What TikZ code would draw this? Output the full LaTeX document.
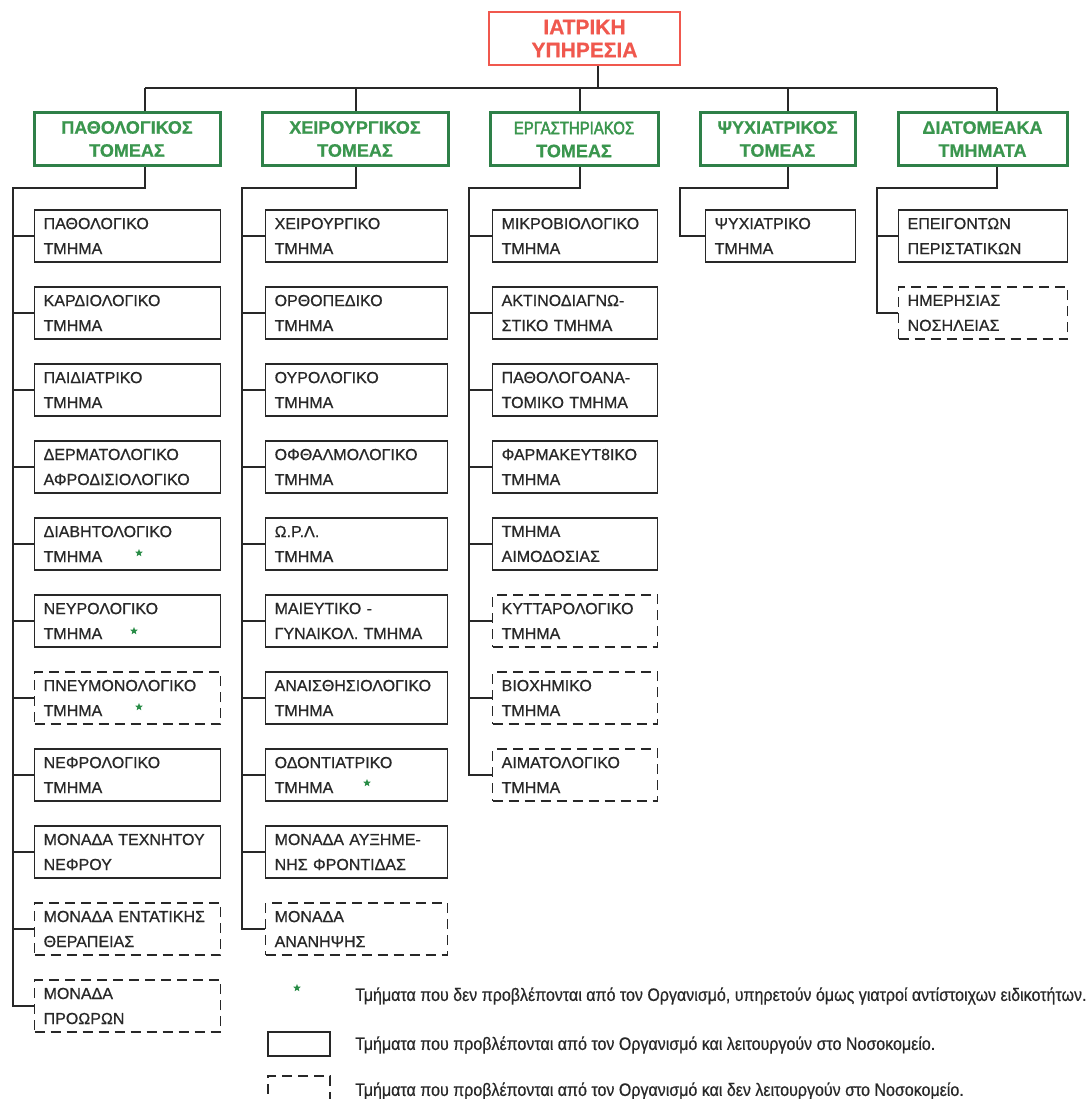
\documentclass[tikz,border=0pt]{standalone}
\usepackage{fontspec}
\setmainfont{Liberation Sans}[BoldFont={Liberation Sans Bold}, FakeBold=0.7]
\newfontfamily\narrowfont[FakeStretch=0.89, FakeBold=0.5]{Liberation Sans}
\usepackage{xcolor}
\usetikzlibrary{positioning, shapes.geometric}

\definecolor{headred}{RGB}{240,88,78}
\definecolor{sectgreen}{RGB}{46,128,72}
\definecolor{secttext}{RGB}{58,150,78}
\definecolor{inkgray}{RGB}{40,40,40}
\definecolor{stargreen}{RGB}{40,140,70}

\tikzset{
	headbox/.style={draw=headred, line width=2.6pt, text=headred, font=\bfseries\fontsize{21}{23}\selectfont, align=center, minimum width=191pt, minimum height=53pt, inner sep=0pt},
	sectorbox/.style={draw=sectgreen, line width=3pt, text=secttext, font=\bfseries\fontsize{18}{23}\selectfont, align=center, minimum height=53pt, inner sep=0pt},
	unitbox/.style={draw=inkgray, line width=1.3pt, text=inkgray, font=\fontsize{16}{25}\selectfont, align=left, anchor=west, text width=#1, minimum height=52pt, inner xsep=9pt, inner ysep=0pt},
	plannedbox/.style={unitbox=#1, dash pattern=on 10pt off 6pt},
	link/.style={draw=inkgray, line width=1.3pt},
	starmark/.style={star, star points=5, star point ratio=2.3, fill=stargreen, inner sep=0pt, minimum size=8pt},
	keytext/.style={anchor=west, text=inkgray, font=\narrowfont\fontsize{18}{20}\selectfont, inner sep=0pt}
}

\begin{document}
\begin{tikzpicture}[x=1pt,y=-1pt]
	\useasboundingbox[fill=white] (0,0) rectangle (1088,1099);

	% head and sectors
	\node[headbox] (head) at (584.5,38.5) {ΙΑΤΡΙΚΗ\\ΥΠΗΡΕΣΙΑ};
	\node[sectorbox, minimum width=186pt] (pat) at (127,139) {ΠΑΘΟΛΟΓΙΚΟΣ\\ΤΟΜΕΑΣ};
	\node[sectorbox, minimum width=186pt] (xei) at (355,139) {ΧΕΙΡΟΥΡΓΙΚΟΣ\\ΤΟΜΕΑΣ};
	\node[sectorbox, minimum width=168pt] (erg) at (574,139.5) {{\narrowfont\mdseries\addfontfeature{FakeStretch=0.83, FakeBold=2.5} ΕΡΓΑΣΤΗΡΙΑΚΟΣ}\\ΤΟΜΕΑΣ};
	\node[sectorbox, minimum width=155pt] (psy) at (777.5,139) {ΨΥΧΙΑΤΡΙΚΟΣ\\ΤΟΜΕΑΣ};
	\node[sectorbox, minimum width=169pt] (dia) at (982.5,139) {ΔΙΑΤΟΜΕΑΚΑ\\ΤΜΗΜΑΤΑ};

	% pathologikos
	\node[unitbox=168pt] (pat1) at (34,236) {ΠΑΘΟΛΟΓΙΚΟ\\ΤΜΗΜΑ};
	\node[unitbox=168pt] (pat2) at (34,313) {ΚΑΡΔΙΟΛΟΓΙΚΟ\\ΤΜΗΜΑ};
	\node[unitbox=168pt] (pat3) at (34,390) {ΠΑΙΔΙΑΤΡΙΚΟ\\ΤΜΗΜΑ};
	\node[unitbox=168pt] (pat4) at (34,467) {ΔΕΡΜΑΤΟΛΟΓΙΚΟ\\ΑΦΡΟΔΙΣΙΟΛΟΓΙΚΟ};
	\node[unitbox=168pt] (pat5) at (34,544) {ΔΙΑΒΗΤΟΛΟΓΙΚΟ\\ΤΜΗΜΑ};
	\node[unitbox=168pt] (pat6) at (34,621) {ΝΕΥΡΟΛΟΓΙΚΟ\\ΤΜΗΜΑ};
	\node[plannedbox=168pt] (pat7) at (34,698) {ΠΝΕΥΜΟΝΟΛΟΓΙΚΟ\\ΤΜΗΜΑ};
	\node[unitbox=168pt] (pat8) at (34,775) {ΝΕΦΡΟΛΟΓΙΚΟ\\ΤΜΗΜΑ};
	\node[unitbox=168pt] (pat9) at (34,852) {ΜΟΝΑΔΑ ΤΕΧΝΗΤΟΥ\\ΝΕΦΡΟΥ};
	\node[plannedbox=168pt] (pat10) at (34,929) {ΜΟΝΑΔΑ ΕΝΤΑΤΙΚΗΣ\\ΘΕΡΑΠΕΙΑΣ};
	\node[plannedbox=168pt] (pat11) at (34,1006) {ΜΟΝΑΔΑ\\ΠΡΟΩΡΩΝ};

	% xeirourgikos
	\node[unitbox=164pt] (xei1) at (265,236) {ΧΕΙΡΟΥΡΓΙΚΟ\\ΤΜΗΜΑ};
	\node[unitbox=164pt] (xei2) at (265,313) {ΟΡΘΟΠΕΔΙΚΟ\\ΤΜΗΜΑ};
	\node[unitbox=164pt] (xei3) at (265,390) {ΟΥΡΟΛΟΓΙΚΟ\\ΤΜΗΜΑ};
	\node[unitbox=164pt] (xei4) at (265,467) {ΟΦΘΑΛΜΟΛΟΓΙΚΟ\\ΤΜΗΜΑ};
	\node[unitbox=164pt] (xei5) at (265,544) {Ω.Ρ.Λ.\\ΤΜΗΜΑ};
	\node[unitbox=164pt] (xei6) at (265,621) {ΜΑΙΕΥΤΙΚΟ -\\ΓΥΝΑΙΚΟΛ. ΤΜΗΜΑ};
	\node[unitbox=164pt] (xei7) at (265,698) {ΑΝΑΙΣΘΗΣΙΟΛΟΓΙΚΟ\\ΤΜΗΜΑ};
	\node[unitbox=164pt] (xei8) at (265,775) {ΟΔΟΝΤΙΑΤΡΙΚΟ\\ΤΜΗΜΑ};
	\node[unitbox=164pt] (xei9) at (265,852) {ΜΟΝΑΔΑ ΑΥΞΗΜΕ-\\ΝΗΣ ΦΡΟΝΤΙΔΑΣ};
	\node[plannedbox=164pt] (xei10) at (265,929) {ΜΟΝΑΔΑ\\ΑΝΑΝΗΨΗΣ};

	% ergastiriakos
	\node[unitbox=147pt] (erg1) at (492,236) {ΜΙΚΡΟΒΙΟΛΟΓΙΚΟ\\ΤΜΗΜΑ};
	\node[unitbox=147pt] (erg2) at (492,313) {ΑΚΤΙΝΟΔΙΑΓΝΩ-\\ΣΤΙΚΟ ΤΜΗΜΑ};
	\node[unitbox=147pt] (erg3) at (492,390) {ΠΑΘΟΛΟΓΟΑΝΑ-\\ΤΟΜΙΚΟ ΤΜΗΜΑ};
	\node[unitbox=147pt] (erg4) at (492,467) {ΦΑΡΜΑΚΕΥΤ8ΙΚΟ\\ΤΜΗΜΑ};
	\node[unitbox=147pt] (erg5) at (492,544) {ΤΜΗΜΑ\\ΑΙΜΟΔΟΣΙΑΣ};
	\node[plannedbox=147pt] (erg6) at (492,621) {ΚΥΤΤΑΡΟΛΟΓΙΚΟ\\ΤΜΗΜΑ};
	\node[plannedbox=147pt] (erg7) at (492,698) {ΒΙΟΧΗΜΙΚΟ\\ΤΜΗΜΑ};
	\node[plannedbox=147pt] (erg8) at (492,775) {ΑΙΜΑΤΟΛΟΓΙΚΟ\\ΤΜΗΜΑ};

	% psyxiatrikos, diatomeaka
	\node[unitbox=132pt] (psy1) at (705,236) {ΨΥΧΙΑΤΡΙΚΟ\\ΤΜΗΜΑ};
	\node[unitbox=151pt] (dia1) at (898,236) {ΕΠΕΙΓΟΝΤΩΝ\\ΠΕΡΙΣΤΑΤΙΚΩΝ};
	\node[plannedbox=151pt] (dia2) at (898,313) {ΗΜΕΡΗΣΙΑΣ\\ΝΟΣΗΛΕΙΑΣ};

	% stars
	\node[starmark] (star5) at (139,553) {};
	\node[starmark] (star6) at (134,631) {};
	\node[starmark] (star7) at (139,707) {};
	\node[starmark] (star8) at (367,783) {};

	% connectors
	\coordinate (jh) at (598,88);
	\coordinate (j1) at (145,88);
	\coordinate (j2) at (356,88);
	\coordinate (j3) at (580,88);
	\coordinate (j4) at (788,88);
	\coordinate (j5) at (997,88);
	\coordinate (t1) at (13,188);
	\coordinate (t2) at (242,188);
	\coordinate (t3) at (469,188);
	\coordinate (t4) at (680,188);
	\coordinate (t5) at (877,188);

	\draw[link] (head.south -| jh) -- (jh);
	\draw[link] (j1) -- (j5);
	\draw[link] (j1) -- (pat.north -| j1);
	\draw[link] (j2) -- (xei.north -| j2);
	\draw[link] (j3) -- (erg.north -| j3);
	\draw[link] (j4) -- (psy.north -| j4);
	\draw[link] (j5) -- (dia.north -| j5);

	\draw[link] (pat.south -| j1) |- (t1) |- (pat11.west);
	\draw[link] (xei.south -| j2) |- (t2) |- (xei10.west);
	\draw[link] (erg.south -| j3) |- (t3) |- (erg8.west);
	\draw[link] (psy.south -| j4) |- (t4) |- (psy1.west);
	\draw[link] (dia.south -| j5) |- (t5) |- (dia2.west);
	\foreach \n in {1,...,10} \draw[link] (t1 |- pat\n.west) -- (pat\n.west);
	\foreach \n in {1,...,9} \draw[link] (t2 |- xei\n.west) -- (xei\n.west);
	\foreach \n in {1,...,7} \draw[link] (t3 |- erg\n.west) -- (erg\n.west);
	\draw[link] (t5 |- dia1.west) -- (dia1.west);

	% legend
	\node[starmark] (keystar) at (297,988) {};
	\node[keytext] (keystartext) at (355,996) {Τμήματα που δεν προβλέπονται από τον Οργανισμό, υπηρετούν όμως γιατροί αντίστοιχων ειδικοτήτων.};
	\node[draw=inkgray, line width=1.3pt, minimum width=62pt, minimum height=24pt, inner sep=0pt] (keyunit) at (299,1044) {};
	\node[keytext] (keyunittext) at (355,1045) {Τμήματα που προβλέπονται από τον Οργανισμό και λειτουργούν στο Νοσοκομείο.};
	\node[draw=inkgray, line width=1.3pt, dash pattern=on 10pt off 6pt, minimum width=62pt, minimum height=28pt, inner sep=0pt] (keyplan) at (299,1090) {};
	\node[keytext] (keyplantext) at (355,1091) {Τμήματα που προβλέπονται από τον Οργανισμό και δεν λειτουργούν στο Νοσοκομείο.};
\end{tikzpicture}
\end{document}
